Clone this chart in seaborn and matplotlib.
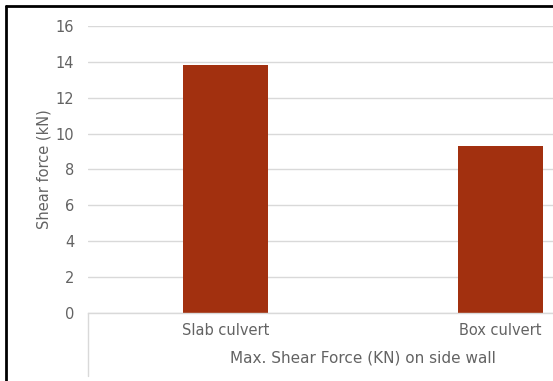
import matplotlib
matplotlib.use("Agg")
import matplotlib.pyplot as plt
import seaborn as sns
import pandas as pd
from matplotlib.lines import Line2D

categories = ["Slab culvert", "Box culvert"]
values = [13.8, 9.3]
yticks = [0, 2, 4, 6, 8, 10, 12, 14, 16]

sns.set_theme(style="white")
plt.rcParams['font.family'] = ['DejaVu Sans']

W, H = 553, 381
fig = plt.figure(figsize=(W / 100, H / 100), dpi=100)
left, right, top, bottom = 88, 638, 26, 313
ax = fig.add_axes([left / W, 1 - bottom / H, (right - left) / W, (bottom - top) / H])

df = pd.DataFrame({"cat": categories, "val": values})
sns.barplot(data=df, x="cat", y="val", ax=ax, color="#A2300F", width=0.31,
            saturation=1, edgecolor="none")

txt = "#636363"
ax.set_ylim(0, 16)
ax.set_yticks(yticks)
ax.set_yticklabels([str(t) for t in yticks], color=txt, fontsize=10.5)
ax.set_xticks(range(len(categories)))
ax.set_xticklabels(categories, color=txt, fontsize=10.5)
ax.tick_params(axis="y", length=0, pad=10)
ax.tick_params(axis="x", length=0, pad=7)
ax.yaxis.grid(True, color="#d9d9d9", linewidth=1)
ax.set_axisbelow(True)
for s in ["top", "right", "left"]:
    ax.spines[s].set_visible(False)
ax.spines["bottom"].set_color("#d9d9d9")
ax.spines["bottom"].set_linewidth(1)
ax.set_xlabel("Max. Shear Force (KN) on side wall", color=txt, fontsize=11, labelpad=9)
ax.set_ylabel("Shear force (kN)", color=txt, fontsize=10.5, labelpad=3)

# multi-level category separator line
fig.add_artist(Line2D([left / W, left / W], [1 - bottom / H, 1 - 376 / H],
                      color="#d9d9d9", linewidth=1))
# figure border (left and top visible)
fig.add_artist(Line2D([6 / W, 6 / W], [0, 1 - 6 / H], color="black", linewidth=2))
fig.add_artist(Line2D([6 / W, 1], [1 - 6 / H, 1 - 6 / H], color="black", linewidth=2))

fig.savefig("out.png", dpi=100)
